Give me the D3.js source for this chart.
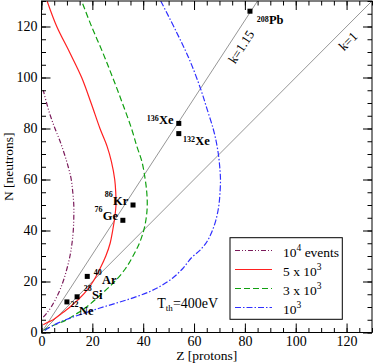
<!DOCTYPE html>
<html>
<head>
<meta charset="utf-8">
<script src="https://cdn.jsdelivr.net/npm/d3@7"></script>
<style>
  html, body { margin: 0; padding: 0; background: #fff; overflow: hidden; }
  svg { display: block; }
  text { font-family: "Liberation Serif", "Times New Roman", serif; }
</style>
</head>
<body>
<div id="chart"></div>
<script>
// curves of constant event number, [Z, N]
var curve1e4 = [[0.7,6],[2,7.5],[3.8,10],[6.5,15],[8.5,20],[10,25],[11.2,30],[12,35],[12.5,40],[12.7,45],[12.7,50],[12.3,55],[11.7,60],[10.5,65],[9,70],[7.3,75],[5.3,80],[3.5,85],[2,90],[0.7,95]];
var curve5e3 = [[0.7,3],[2.5,4],[4.6,5],[8,7.5],[11.2,10],[14,12.5],[17,15.5],[20.3,20],[23,25],[25.3,30],[27,35],[28,40],[28.8,45],[29.3,50],[29.2,55],[28.8,60],[27.5,67],[25.8,73],[23,80],[19.5,90],[15.8,100],[11,110],[6,120],[2.2,130]];
var curve3e3 = [[1,1],[4,2.5],[9.9,5],[14,7.5],[17.7,10],[23.5,15],[28.8,20],[33,25],[36,30],[38.5,35],[40.2,40],[41.2,45],[41.6,50],[41.4,55],[40.8,60],[39.5,67],[37.5,73],[35.4,80],[31.8,90],[28,100],[24,110],[19.7,120],[15.8,130]];
var curve1e3 = [[1.3,0.8],[5,3],[10,5.2],[16,7.3],[23,9.6],[30,11.7],[36,13.6],[42,15.8],[47,18.3],[51.5,21.3],[55.5,25],[59,29.3],[62.4,32.3],[65,35.5],[66.9,39.2],[68.6,44.1],[69.7,49.4],[70.2,54.6],[70.4,60],[70.1,65],[69.6,69.7],[68.7,75],[67.5,80],[65,88],[62.5,95.8],[58.2,107],[53,118],[46.9,130]];

// nuclei: mass number, element, Z, N
var nuclei = [
  {A: "208", el: "Pb", Z: 82, N: 126},
  {A: "136", el: "Xe", Z: 54, N: 82},
  {A: "132", el: "Xe", Z: 54, N: 78},
  {A: "86",  el: "Kr", Z: 36, N: 50},
  {A: "76",  el: "Ge", Z: 32, N: 44},
  {A: "40",  el: "Ar", Z: 18, N: 22},
  {A: "28",  el: "Si", Z: 14, N: 14},
  {A: "22",  el: "Ne", Z: 10, N: 12}
];

// N = slope * Z reference lines
var kLabels = ["k=1.15", "k=1"];
var kSlopes = [1.53, 1];

var legendLabels = [["10", "4", " events"], ["5 x 10", "3", ""], ["3 x 10", "3", ""], ["10", "3", ""]];
var xTicks = [0, 20, 40, 60, 80, 100, 120];
var yTicks = [0, 20, 40, 60, 80, 100, 120];

var W = 374, H = 364;
var margin = {top: 1, right: 2, bottom: 31.5, left: 41.5};
var width = W - margin.left - margin.right;
var height = H - margin.top - margin.bottom;

var svg = d3.select("#chart").append("svg")
    .attr("width", W)
    .attr("height", H);

var x = d3.scaleLinear().domain([0, 130]).range([margin.left, margin.left + width]);
var y = d3.scaleLinear().domain([0, 130]).range([margin.top + height, margin.top]);

// clip so curves stop at the frame
svg.append("defs").append("clipPath").attr("id", "clip")
  .append("rect")
    .attr("x", margin.left).attr("y", margin.top)
    .attr("width", width).attr("height", height);
var plot = svg.append("g").attr("clip-path", "url(#clip)");

// reference lines
kSlopes.forEach(function(k) {
  plot.append("line")
    .attr("x1", x(0)).attr("y1", y(0))
    .attr("x2", x(130)).attr("y2", y(130 * k))
    .attr("stroke", "#8a8a8a")
    .attr("stroke-width", 0.9);
});

// curves
var line = d3.line()
  .x(function(d) { return x(d[0]); })
  .y(function(d) { return y(d[1]); })
  .curve(d3.curveCatmullRom);

var styles = [
  {data: curve1e4, color: "#7a1a5a", dash: "5,2,1,2,1,2"},
  {data: curve5e3, color: "#ff2020", dash: "none"},
  {data: curve3e3, color: "#10a010", dash: "6,3"},
  {data: curve1e3, color: "#3030ff", dash: "6,2,1.5,2"}
];

styles.forEach(function(s) {
  plot.append("path")
    .attr("d", line(s.data))
    .attr("fill", "none")
    .attr("stroke", s.color)
    .attr("stroke-width", 1.2)
    .attr("stroke-dasharray", s.dash);
});

// nuclei markers
svg.selectAll(".nuc")
  .data(nuclei)
  .enter().append("rect")
    .attr("class", "nuc")
    .attr("x", function(d) { return x(d.Z) - 2.5; })
    .attr("y", function(d) { return y(d.N) - 2.5; })
    .attr("width", 5).attr("height", 5)
    .attr("fill", "#000");

// element label position from marker [dx, dy]; mass number sits just left of it
var labelOff = {
  "208Pb": [19, 12.5],
  "136Xe": [-19.8, 0.9],
  "132Xe": [16.5, 11.4],
  "86Kr": [-20, 0],
  "76Ge": [-20, -0.3],
  "40Ar": [14.7, 7.6],
  "28Si": [14.9, 2.4],
  "22Ne": [12, 13]
};
var massRise = {"208Pb": 1.5, "136Xe": 3.5, "132Xe": 3.5, "86Kr": 8, "76Ge": 8, "40Ar": 9, "28Si": 8, "22Ne": 8};

nuclei.forEach(function(d) {
  var key = d.A + d.el;
  var o = labelOff[key];
  var ex = x(d.Z) + o[0], ey = y(d.N) + o[1];
  svg.append("text")
    .attr("x", ex - 0.3).attr("y", ey - massRise[key])
    .attr("text-anchor", "end")
    .attr("font-size", 8)
    .attr("font-weight", "bold")
    .attr("fill", "#000")
    .text(d.A);
  svg.append("text")
    .attr("x", ex).attr("y", ey)
    .attr("font-size", 12.5)
    .attr("font-weight", "bold")
    .attr("fill", "#000")
    .text(d.el);
});

// k labels, rotated along their lines: [Z on line, px offset to lower right]
var kPos = [[74.8, 11.2], [117.4, 11.3]];
kLabels.forEach(function(lab, i) {
  var px = x(kPos[i][0]), py = y(kPos[i][0] * kSlopes[i]);
  var ang = Math.atan(kSlopes[i] * (y(0) - y(1)) / (x(1) - x(0)));
  var off = kPos[i][1];
  var cx = px + off * Math.sin(ang), cy = py + off * Math.cos(ang);
  svg.append("text")
    .attr("transform", "translate(" + cx + "," + cy + ") rotate(" + (-ang * 180 / Math.PI) + ")")
    .attr("text-anchor", "middle")
    .attr("dy", "0.35em")
    .attr("font-size", 13)
    .text(lab);
});

// axes with inward ticks
var minor = d3.range(0, 131, 5);

var xAxis = svg.append("g")
  .attr("class", "xaxis")
  .attr("transform", "translate(0," + (margin.top + height) + ")")
  .call(d3.axisBottom(x).tickValues(xTicks).tickSize(-9).tickPadding(3.5).tickFormat(d3.format("d")));
svg.append("g")
  .attr("transform", "translate(0," + (margin.top + height) + ")")
  .call(d3.axisBottom(x).tickValues(minor).tickSize(-4.5).tickFormat(""));
svg.append("g")
  .attr("transform", "translate(0," + margin.top + ")")
  .call(d3.axisTop(x).tickValues(xTicks).tickSize(-9).tickFormat(""));
svg.append("g")
  .attr("transform", "translate(0," + margin.top + ")")
  .call(d3.axisTop(x).tickValues(minor).tickSize(-4.5).tickFormat(""));

var yAxis = svg.append("g")
  .attr("class", "yaxis")
  .attr("transform", "translate(" + margin.left + ",0)")
  .call(d3.axisLeft(y).tickValues(yTicks).tickSize(-9).tickPadding(4).tickFormat(d3.format("d")));
svg.append("g")
  .attr("transform", "translate(" + margin.left + ",0)")
  .call(d3.axisLeft(y).tickValues(minor).tickSize(-4.5).tickFormat(""));
svg.append("g")
  .attr("transform", "translate(" + (margin.left + width) + ",0)")
  .call(d3.axisRight(y).tickValues(yTicks).tickSize(-9).tickFormat(""));
svg.append("g")
  .attr("transform", "translate(" + (margin.left + width) + ",0)")
  .call(d3.axisRight(y).tickValues(minor).tickSize(-4.5).tickFormat(""));

svg.selectAll(".domain").remove();
svg.selectAll(".tick line").attr("stroke", "#000").attr("stroke-width", 1);
svg.selectAll(".xaxis .tick text, .yaxis .tick text")
  .attr("font-family", "Liberation Serif, serif")
  .attr("font-size", 14)
  .attr("fill", "#000");

// frame
svg.append("rect")
  .attr("x", margin.left).attr("y", margin.top)
  .attr("width", width).attr("height", height)
  .attr("fill", "none")
  .attr("stroke", "#000")
  .attr("stroke-width", 1);

// axis titles
svg.append("text")
  .attr("x", margin.left + width / 2).attr("y", 360)
  .attr("text-anchor", "middle")
  .attr("font-size", 13.5)
  .text("Z [protons]");
svg.append("text")
  .attr("transform", "translate(13," + (margin.top + height / 2) + ") rotate(-90)")
  .attr("text-anchor", "middle")
  .attr("font-size", 13.5)
  .text("N [neutrons]");

// threshold note
var tth = svg.append("text").attr("x", 157.3).attr("y", 308).attr("font-size", 14);
tth.append("tspan").text("T");
tth.append("tspan").attr("font-size", 9).attr("dy", 3).text("th");
tth.append("tspan").attr("dy", -3).text("=400eV");

// legend
var lg = svg.append("g");
lg.append("rect")
  .attr("x", 230).attr("y", 237.7)
  .attr("width", 112.3).attr("height", 81.6)
  .attr("fill", "#fff")
  .attr("stroke", "#000")
  .attr("stroke-width", 1);
var rowY = [250.5, 269.5, 288.5, 307.5];
styles.forEach(function(s, i) {
  lg.append("line")
    .attr("x1", 235).attr("x2", 272)
    .attr("y1", rowY[i]).attr("y2", rowY[i])
    .attr("stroke", s.color)
    .attr("stroke-width", 1.2)
    .attr("stroke-dasharray", s.dash);
  var t = lg.append("text")
    .attr("x", 283).attr("y", rowY[i] + 6)
    .attr("font-size", 13.5);
  t.append("tspan").text(legendLabels[i][0]);
  t.append("tspan").attr("font-size", 9.5).attr("dy", -6).text(legendLabels[i][1]);
  if (legendLabels[i][2]) t.append("tspan").attr("dy", 6).text(legendLabels[i][2]);
});
</script>
</body>
</html>
